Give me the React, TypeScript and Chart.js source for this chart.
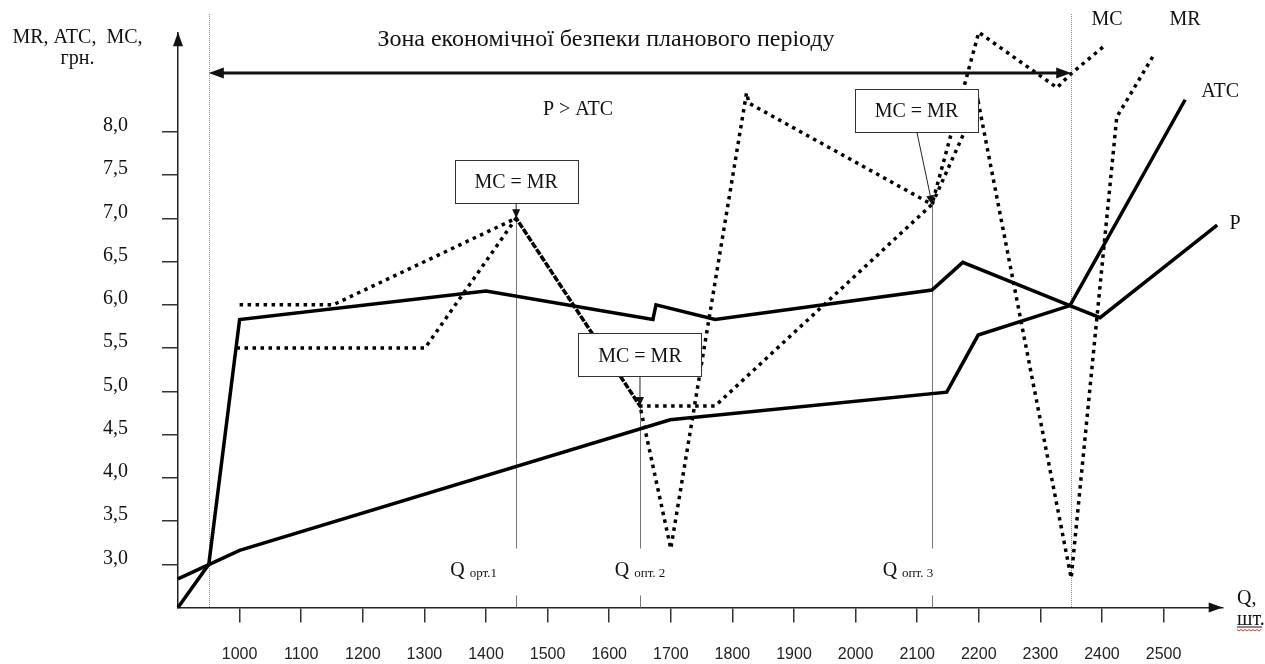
import React, { useEffect, useRef } from "react";
import { Chart, registerables } from "chart.js";

Chart.register(...registerables);

// ---------- data ----------
const xTicks = [1000, 1100, 1200, 1300, 1400, 1500, 1600, 1700, 1800, 1900, 2000, 2100, 2200, 2300, 2400, 2500];
const yTicks = [3.0, 3.5, 4.0, 4.5, 5.0, 5.5, 6.0, 6.5, 7.0, 7.5, 8.0];

// P (solid)
const pQ = [900, 950, 1000, 1400, 1671, 1676, 1772, 2124, 2174, 2348, 2397, 2587];
const pVal = [2.5, 3.0, 5.83, 6.16, 5.83, 6.0, 5.83, 6.17, 6.49, 5.99, 5.85, 6.92];

// ATC (solid)
const atcQ = [900, 1000, 1699, 2148, 2199, 2348, 2535];
const atcVal = [2.83, 3.16, 4.67, 4.99, 5.65, 5.99, 8.37];

// MC (dotted)
const mcQ = [1000, 1152, 1449, 1650, 1772, 2124, 2200, 2327, 2348, 2405];
const mcVal = [6.0, 6.0, 7.0, 4.83, 4.83, 7.16, 9.15, 8.51, 8.66, 9.0];

// MR (dotted)
const mrQ = [995, 1301, 1449, 1650, 1700, 1823, 1827, 2124, 2199, 2350, 2424, 2486];
const mrVal = [5.5, 5.5, 7.0, 4.83, 3.18, 8.45, 8.33, 7.16, 8.35, 2.84, 8.17, 8.91];

// optimum points (MC = MR)
const qOpt = [1449, 1650, 2124];
const qOptVal = [7.0, 4.83, 7.16];
const qOptSub = ["орт.1", "опт. 2", "опт. 3"];
const qOptLabelQ = [1342, 1609, 2044];

const zoneStart = 950;
const zoneEnd = 2350;

const SERIF = '"Liberation Serif", "Times New Roman", serif';
const SANS = '"Liberation Sans", Arial, sans-serif';

function arrowHead(ctx: CanvasRenderingContext2D, tx: number, ty: number, fx: number, fy: number, len: number, half: number) {
  const a = Math.atan2(ty - fy, tx - fx);
  const bx = tx - len * Math.cos(a);
  const by = ty - len * Math.sin(a);
  ctx.beginPath();
  ctx.moveTo(tx, ty);
  ctx.lineTo(bx + half * Math.sin(a), by - half * Math.cos(a));
  ctx.lineTo(bx - half * Math.sin(a), by + half * Math.cos(a));
  ctx.closePath();
  ctx.fill();
}

const backPlugin = {
  id: "backAnnot",
  beforeDatasetsDraw(chart: any) {
    const { ctx, scales } = chart;
    const X = (v: number) => scales.x.getPixelForValue(v);
    const Y = (v: number) => scales.y.getPixelForValue(v);
    const y0 = Y(2.5);
    ctx.save();
    // zone boundaries
    ctx.strokeStyle = "#888";
    ctx.lineWidth = 1;
    ctx.setLineDash([1, 1]);
    [zoneStart, zoneEnd].forEach((q) => {
      const px = Math.round(X(q)) + 0.5;
      ctx.beginPath();
      ctx.moveTo(px, 14);
      ctx.lineTo(px, y0);
      ctx.stroke();
    });
    ctx.setLineDash([]);
    // optimum verticals
    ctx.strokeStyle = "#777";
    qOpt.forEach((q, i) => {
      const px = Math.round(X(q)) + 0.5;
      ctx.beginPath();
      ctx.moveTo(px, Y(qOptVal[i]));
      ctx.lineTo(px, y0 - 59);
      ctx.moveTo(px, y0 - 12);
      ctx.lineTo(px, y0);
      ctx.stroke();
    });
    ctx.restore();
  },
};

const frontPlugin = {
  id: "frontAnnot",
  afterDraw(chart: any) {
    const { ctx, scales, chartArea } = chart;
    const X = (v: number) => scales.x.getPixelForValue(v);
    const Y = (v: number) => scales.y.getPixelForValue(v);
    const y0 = Y(2.5);
    const x0 = X(900);
    ctx.save();
    ctx.fillStyle = "#111";
    ctx.strokeStyle = "#111";

    // axis arrows
    arrowHead(ctx, x0, chartArea.top, x0, chartArea.top + 20, 14, 5);
    arrowHead(ctx, chartArea.right, y0, chartArea.right - 20, y0, 14, 5);

    // double arrow of the zone
    const ya = 73;
    const xl = X(zoneStart);
    const xr = X(zoneEnd);
    ctx.lineWidth = 3;
    ctx.beginPath();
    ctx.moveTo(xl + 10, ya);
    ctx.lineTo(xr - 10, ya);
    ctx.stroke();
    arrowHead(ctx, xl, ya, xl + 20, ya, 15, 5.5);
    arrowHead(ctx, xr, ya, xr - 20, ya, 15, 5.5);

    // texts
    ctx.fillStyle = "#111";
    ctx.textBaseline = "alphabetic";
    ctx.textAlign = "center";
    ctx.font = `20px ${SERIF}`;
    ctx.fillText("MR, ATC,  MC,", 77.5, 43);
    ctx.fillText("грн.", 77.5, 64);
    ctx.font = `24px ${SERIF}`;
    ctx.fillText("Зона економічної безпеки планового періоду", 606, 46);
    ctx.font = `20px ${SERIF}`;
    ctx.fillText("P > ATC", 578, 115);

    // boxes MC = MR
    const boxOff = [
      [0, -37],
      [0, -51],
      [-15.5, -94],
    ];
    const arrowStart = [
      [0, -15],
      [0, -29],
      [-15, -72],
    ];
    qOpt.forEach((q, i) => {
      const tx = X(q);
      const ty = Y(qOptVal[i]);
      const cx = tx + boxOff[i][0];
      const cy = ty + boxOff[i][1];
      const w = 123;
      const h = 43;
      ctx.fillStyle = "#fff";
      ctx.fillRect(cx - w / 2, cy - h / 2, w, h);
      ctx.strokeStyle = "#333";
      ctx.lineWidth = 1;
      ctx.strokeRect(Math.round(cx - w / 2) + 0.5, Math.round(cy - h / 2) + 0.5, w, h);
      ctx.fillStyle = "#111";
      ctx.font = `20px ${SERIF}`;
      ctx.textAlign = "center";
      ctx.fillText("MC = MR", cx, cy + 7);
      // pointer arrow
      const sx = tx + arrowStart[i][0];
      const sy = ty + arrowStart[i][1];
      ctx.strokeStyle = "#222";
      ctx.lineWidth = 1;
      ctx.beginPath();
      ctx.moveTo(sx, sy);
      ctx.lineTo(tx, ty - 1);
      ctx.stroke();
      ctx.fillStyle = "#111";
      arrowHead(ctx, tx, ty, sx, sy, 9, 4);
    });

    // Q opt labels
    qOpt.forEach((q, i) => {
      const lx = X(qOptLabelQ[i]);
      ctx.textAlign = "left";
      ctx.font = `20px ${SERIF}`;
      ctx.fillText("Q", lx, y0 - 32);
      const qw = ctx.measureText("Q ").width;
      ctx.font = `13px ${SERIF}`;
      ctx.fillText(qOptSub[i], lx + qw, y0 - 31);
    });

    // series labels
    ctx.font = `20px ${SERIF}`;
    ctx.textAlign = "center";
    const mcEnd = [X(mcQ[mcQ.length - 1]), Y(mcVal[mcVal.length - 1])];
    const mrEnd = [X(mrQ[mrQ.length - 1]), Y(mrVal[mrVal.length - 1])];
    const atcEnd = [X(atcQ[atcQ.length - 1]), Y(atcVal[atcVal.length - 1])];
    const pEnd = [X(pQ[pQ.length - 1]), Y(pVal[pVal.length - 1])];
    ctx.fillText("MC", mcEnd[0] + 2, mcEnd[1] - 20);
    ctx.fillText("MR", mrEnd[0] + 30, mrEnd[1] - 28);
    ctx.fillText("ATC", atcEnd[0] + 35, atcEnd[1] - 3);
    ctx.fillText("P", pEnd[0] + 18, pEnd[1] + 4);

    // axis unit Q, шт.
    ctx.textAlign = "left";
    ctx.fillText("Q,", 1237, y0 - 4);
    ctx.fillText("шт.", 1237, y0 + 17);
    ctx.lineWidth = 1;
    ctx.strokeStyle = "#111";
    ctx.beginPath();
    ctx.moveTo(1237, y0 + 19.5);
    ctx.lineTo(1262, y0 + 19.5);
    ctx.stroke();
    ctx.strokeStyle = "#e03030";
    ctx.beginPath();
    for (let k = 0; k <= 12; k++) {
      const px = 1237 + k * 2;
      const py = y0 + 22 + (k % 2 === 0 ? 0 : 1.5);
      if (k === 0) ctx.moveTo(px, py);
      else ctx.lineTo(px, py);
    }
    ctx.stroke();

    ctx.restore();
  },
};

function pts(q: number[], v: number[]) {
  return q.map((x, i) => ({ x, y: v[i] }));
}

export default function App() {
  const ref = useRef<HTMLCanvasElement | null>(null);
  useEffect(() => {
    if (!ref.current) return;
    const solid = { borderColor: "#000", borderWidth: 3.5, pointRadius: 0, tension: 0, fill: false, clip: false as any, borderJoinStyle: "miter" as const };
    const dotted = { ...solid, borderWidth: 3.5, borderDash: [3.5, 4.5], borderCapStyle: "butt" as const };
    const chart = new Chart(ref.current, {
      type: "line",
      data: {
        datasets: [
          { label: "P", data: pts(pQ, pVal), ...solid },
          { label: "ATC", data: pts(atcQ, atcVal), ...solid },
          { label: "MC", data: pts(mcQ, mcVal), ...dotted },
          { label: "MR", data: pts(mrQ, mrVal), ...dotted },
        ],
      },
      options: {
        responsive: false,
        animation: false,
        layout: { padding: { left: 0, right: 42.3, top: 32.3, bottom: 0 } },
        plugins: { legend: { display: false }, tooltip: { enabled: false }, title: { display: false } },
        scales: {
          x: {
            type: "linear",
            min: 900,
            max: 2596,
            afterBuildTicks: (s: any) => {
              s.ticks = xTicks.map((v) => ({ value: v }));
            },
            afterFit: (s: any) => {
              s.height = 56.5;
              s.paddingLeft = 0;
              s.paddingRight = 0;
            },
            grid: { drawOnChartArea: false, drawTicks: true, tickLength: 15, color: "#333", lineWidth: 1.5 },
            border: { display: true, color: "#222", width: 1.5 },
            ticks: {
              padding: 22,
              autoSkip: false,
              maxRotation: 0,
              color: "#222",
              font: { family: SANS, size: 16 },
              callback: (v: any) => String(v),
            },
          },
          y: {
            type: "linear",
            min: 2.5,
            max: 9.15,
            afterBuildTicks: (s: any) => {
              s.ticks = yTicks.map((v) => ({ value: v }));
            },
            afterFit: (s: any) => {
              s.width = 178;
              s.paddingTop = 0;
              s.paddingBottom = 0;
            },
            grid: { drawOnChartArea: false, drawTicks: true, tickLength: 16, color: "#333", lineWidth: 1.5 },
            border: { display: true, color: "#222", width: 1.5 },
            ticks: {
              padding: 34,
              labelOffset: -6,
              color: "#111",
              font: { family: SERIF, size: 20 },
              callback: (v: any) => Number(v).toFixed(1).replace(".", ","),
            },
          },
        },
      },
      plugins: [backPlugin, frontPlugin],
    });
    return () => chart.destroy();
  }, []);
  return (
    <div style={{ position: "fixed", left: 0, top: 0, width: 1265, height: 664, background: "#fff" }}>
      <canvas ref={ref} width={1265} height={664} style={{ display: "block" }} />
    </div>
  );
}
